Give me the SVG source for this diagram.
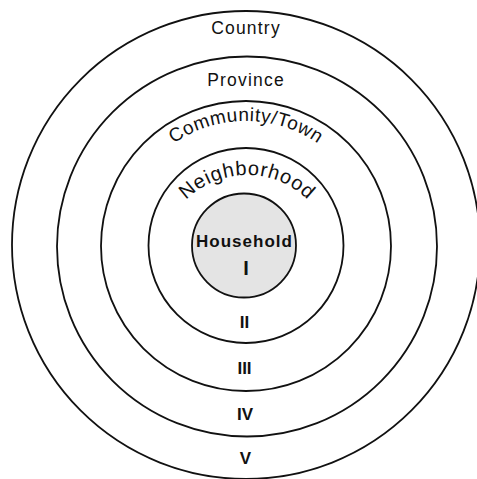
<svg xmlns="http://www.w3.org/2000/svg" width="477" height="479" viewBox="0 0 477 479">
  <style>
    .ring { fill: none; stroke: #111; stroke-width: 1.8; }
    .core { fill: #e4e4e4; stroke: #111; stroke-width: 1.8; }
    .lbl { font-family: "Liberation Sans", Arial, sans-serif; font-size: 17.5px; fill: #111; text-anchor: middle; letter-spacing: 1.2px; }
    .arc { font-family: "Liberation Sans", Arial, sans-serif; font-size: 19px; fill: #111; text-anchor: middle; letter-spacing: 0.6px; }
    .num { font-family: "Liberation Sans", Arial, sans-serif; font-size: 17px; font-weight: bold; fill: #111; text-anchor: middle; }
    .hh { font-family: "Liberation Sans", Arial, sans-serif; font-size: 17px; font-weight: bold; fill: #111; text-anchor: middle; letter-spacing: 1px; }
  </style>
  <defs>
    <path id="arcCommunity" d="M119,248 A127,127 0 0 1 373,248"/>
    <path id="arcNeighborhood" d="M160,262 A87,87 0 0 1 334,262"/>
  </defs>
  <rect width="477" height="479" fill="#ffffff"/>
  <g id="country">
    <circle class="ring" cx="246" cy="245" r="234"/>
    <text class="lbl" x="246" y="34">Country</text>
    <text class="num" x="245.5" y="464">V</text>
  </g>
  <g id="province">
    <circle class="ring" cx="247" cy="246.5" r="190"/>
    <text class="lbl" x="246" y="86">Province</text>
    <text class="num" x="245" y="419.5">IV</text>
  </g>
  <g id="community">
    <circle class="ring" cx="246" cy="246" r="145"/>
    <text class="arc"><textPath href="#arcCommunity" startOffset="50%">Community/Town</textPath></text>
    <text class="num" x="244.5" y="374">III</text>
  </g>
  <g id="neighborhood">
    <circle class="ring" cx="246" cy="245.5" r="97.5"/>
    <text class="arc" style="font-size:20px;letter-spacing:0.8px"><textPath href="#arcNeighborhood" startOffset="50%">Neighborhood</textPath></text>
    <text class="num" x="244.5" y="328">II</text>
  </g>
  <g id="household">
    <circle class="core" cx="244" cy="245.5" r="52"/>
    <text class="hh" x="244.5" y="247">Household</text>
    <text class="num" x="246" y="275" style="font-size:20px">I</text>
  </g>
</svg>
